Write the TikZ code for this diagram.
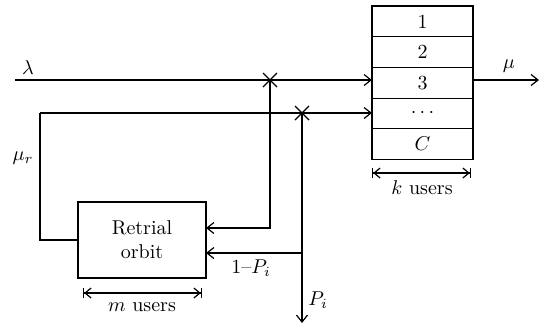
\documentclass[tikz,border=0pt]{standalone}
\usetikzlibrary{arrows.meta}
\begin{document}
\begin{tikzpicture}[x=0.5pt,y=-0.5pt,line width=0.6pt,
  arr/.style={-{Straight Barb[length=3.5pt,width=5.5pt]}},
  dim/.style={{Bar[width=5pt]Straight Barb[length=3pt,width=5pt]}-{Straight Barb[length=3pt,width=5pt]Bar[width=5pt]}},
  cell/.style={draw,minimum width=50.5pt,minimum height=15.35pt,inner sep=0pt,outer sep=0pt},
  lab/.style={inner sep=1pt}]
\useasboundingbox (0,0) rectangle (539,328);
% queue
\node[cell] (q1) at (422.5,21.35) {1};
\node[cell] (q2) at (422.5,52.05) {2};
\node[cell] (q3) at (422.5,82.75) {3};
\node[cell] (q4) at (422.5,113.45) {$\cdots$};
\node[cell] (q5) at (422.5,144.15) {$C$};
% orbit
\node[draw,minimum width=64pt,minimum height=38pt,align=center,inner sep=0pt,outer sep=0pt] (orbit) at (142,240) {Retrial\\orbit};
% coordinates
\coordinate (lam) at (15,80);
\coordinate (c1) at (270,80);
\coordinate (c2) at (302,113);
\coordinate (s2) at (40,113);
\coordinate (r1) at (0,228);
\coordinate (r2) at (0,253);
\coordinate (pout) at (302,323);
\coordinate (muout) at (539,80);
% connectors
\draw[arr] (lam) -- (lam -| q3.west);
\draw[arr] (s2) -- (s2 -| q4.west);
\draw (orbit.west) -| (s2);
\draw[arr] (c1) |- (orbit.east |- r1);
\draw[arr] (c2) -- (pout);
\draw[arr] (c2 |- r2) -- (orbit.east |- r2);
\draw[arr] (q3.east |- lam) -- (muout);
% crosses
\draw (c1) +(-7,-7) -- +(7,7) (c1) +(-7,7) -- +(7,-7);
\draw (c2) +(-7,-7) -- +(7,7) (c2) +(-7,7) -- +(7,-7);
% dimension arrows
\coordinate (m1) at (83,293);
\coordinate (m2) at (202,293);
\coordinate (k1) at (372,173);
\coordinate (k2) at (471,173);
\draw[dim] (m1) -- (m2);
\draw[dim] (k1) -- (k2);
\node[lab] (mlab) at (142,307) {$m$ users};
\node[lab] (klab) at (422,188) {$k$ users};
% labels
\node[lab] (lamlab) at (28,68) {$\lambda$};
\node[lab] (mulab) at (509,66) {$\mu$};
\node[lab] (murlab) at (23,158) {$\mu_r$};
\node[lab] (plab1) at (251,268) {1--$P_i$};
\node[lab] (plab2) at (318,300) {$P_i$};
\end{tikzpicture}
\end{document}
